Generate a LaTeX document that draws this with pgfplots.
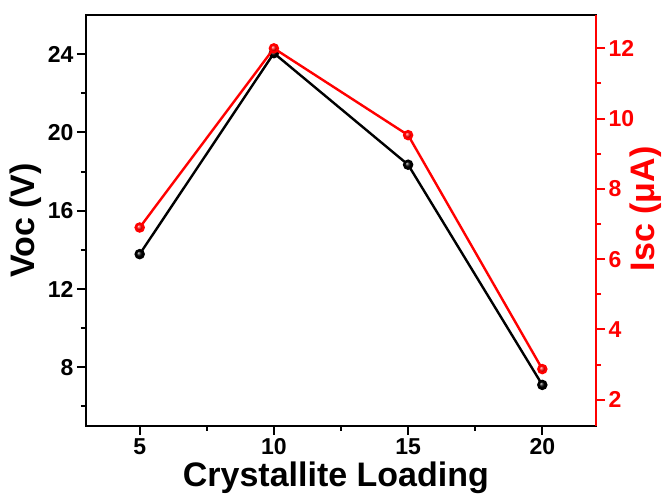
\documentclass[border=0pt]{standalone}
\usepackage{fontspec}
\setmainfont{Liberation Sans}
\usepackage{pgfplots}
\pgfplotsset{compat=1.18}
\definecolor{iscred}{RGB}{255,0,0}

\begin{document}
\begin{tikzpicture}
\pgfplotsset{
  common/.style={
    scale only axis, width=510pt, height=411pt,
    xmin=3, xmax=22,
    tick align=outside,
    major tick length=9pt, minor tick length=5pt,
    /pgf/number format/assume math mode=true,
    tick label style={font=\fontsize{23}{25}\selectfont\bfseries},
    label style={font=\fontsize{34}{38}\selectfont\bfseries},
    clip=false,
  },
}
% left axis: open-circuit voltage
\begin{axis}[
  common,
  ymin=5, ymax=26,
  xtick={5,10,15,20}, minor xtick={7.5,12.5,17.5},
  ytick={8,12,16,20,24}, minor ytick={6,10,14,18,22},
  xtick pos=bottom, ytick pos=left,
  axis line style={line width=2.8pt},
  tick style={line width=2pt, black},
  xlabel={Crystallite Loading},
  ylabel={Voc (V)},
  xlabel style={at={(axis description cs:0.49,-0.148)}, anchor=base},
  ylabel style={at={(axis description cs:-0.118,0.5)}, anchor=center},
]
\addplot[black, line width=2.4pt, mark=ball, mark size=4pt,
  mark options={ball color=black}]
  coordinates {(5,13.78) (10,24.05) (15,18.35) (20,7.1)};
\end{axis}
% right axis: short-circuit current
\begin{axis}[
  common,
  ymin=1.25, ymax=12.95,
  axis x line=none, axis y line*=right,
  ytick={2,4,6,8,10,12}, minor ytick={3,5,7,9,11},
  axis line style={line width=2.8pt, iscred},
  tick style={line width=2pt, iscred},
  yticklabel style={iscred},
  ylabel={Isc (μA)},
  ylabel style={iscred, at={(axis description cs:1.098,0.528)}, anchor=center},
]
\addplot[iscred, line width=2.4pt, mark=ball, mark size=4pt,
  mark options={ball color=iscred}]
  coordinates {(5,6.9) (10,12.0) (15,9.53) (20,2.87)};
\end{axis}
\pgfresetboundingbox
\path[use as bounding box] (-86pt,-69pt) rectangle (584pt,426pt);
\end{tikzpicture}
\end{document}
